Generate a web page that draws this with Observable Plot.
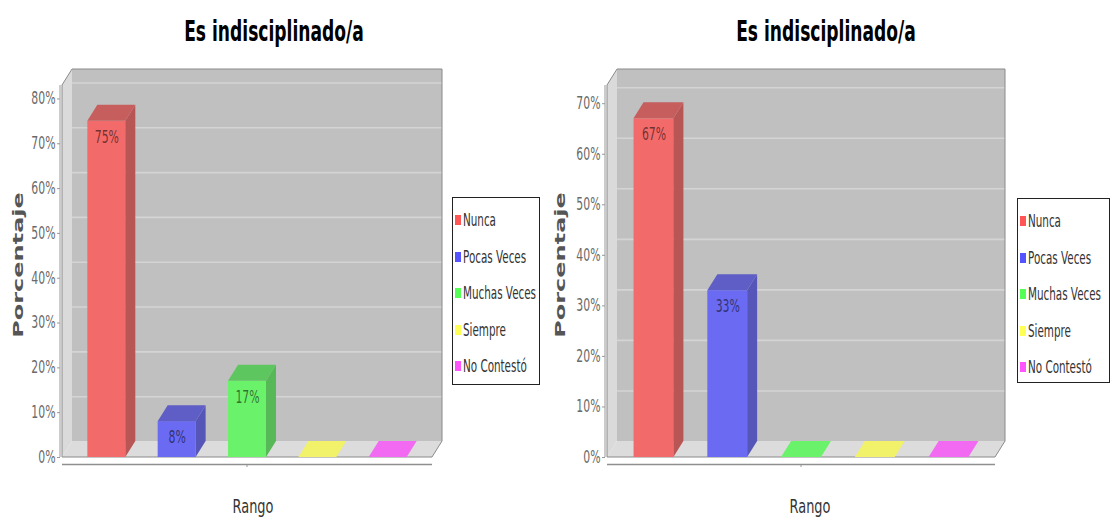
<!DOCTYPE html>
<html>
<head>
<meta charset="utf-8">
<script src="https://cdn.jsdelivr.net/npm/d3@7"></script>
<script src="https://cdn.jsdelivr.net/npm/@observablehq/plot@0.6"></script>
<style>
  body { margin: 0; background: #fff; }
  #root { position: relative; width: 1113px; height: 522px; overflow: hidden; font-family: "DejaVu Sans", sans-serif; }
  .panel { position: absolute; top: 0; height: 522px; }
  .panel svg { position: absolute; left: 0; top: 0; }
  .ov { position: absolute; white-space: nowrap; line-height: 1; }
</style>
</head>
<body>
<div id="root"></div>
<script>
// ---- data ----
const categories = ["Nunca", "Pocas Veces", "Muchas Veces", "Siempre", "No Contestó"];
const legendColors = ["#FF5555", "#5555FF", "#55FF55", "#FFFF55", "#FF55FF"];
const frontColors = ["#F26A6A", "#6A6AF2", "#6AF26A", "#F2F26A", "#F26AF2"];
const sideColors = ["#B85656", "#5656B8", "#56B856", "#B8B856", "#B856B8"];
const topColors = ["#C65E5E", "#5E5EC6", "#5EC65E", "#C6C65E", "#C65EC6"];
const leftValues = [75, 8, 17, 0, 0];
const rightValues = [67, 33, 0, 0, 0];
const leftTicks = [0, 10, 20, 30, 40, 50, 60, 70, 80];
const rightTicks = [0, 10, 20, 30, 40, 50, 60, 70];
const titleText = "Es indisciplinado/a";
const xLabel = "Rango";
const yLabel = "Porcentaje";

// ---- layout ----
const DX = 10, DY = 16;
const panelSpecs = [
  {values: leftValues, ticks: leftTicks, yMax: 83, left: 0, width: 556, ml: 62, mr: 124,
   titleX: 274, ylabX: 18, rangoX: 253, legend: {x: 452, y: 197, w: 88, h: 188}},
  {values: rightValues, ticks: rightTicks, yMax: 73.6, left: 556, width: 557, ml: 51, mr: 118,
   titleX: 826, ylabX: 560, rangoX: 810, legend: {x: 1017, y: 198, w: 93, h: 185}}
];

const root = document.getElementById("root");

function squish(svg, k) {
  svg.querySelectorAll("text").forEach(t => {
    const L = t.getComputedTextLength();
    if (L > 0) {
      t.setAttribute("textLength", (L * k).toFixed(2));
      t.setAttribute("lengthAdjust", "spacingAndGlyphs");
    }
  });
}

function box3d(index, scales, values, dim) {
  const x0 = dim.marginLeft, x1 = dim.width - dim.marginRight;
  const yT = dim.marginTop, yB = dim.height - dim.marginBottom;
  const g = d3.create("svg:g");
  g.append("rect").attr("x", x0 + DX).attr("y", yT - DY).attr("width", x1 - x0).attr("height", yB - yT)
    .attr("fill", "#c0c0c0");
  g.append("path").attr("d", `M${x0},${yT}L${x0 + DX},${yT - DY}L${x0 + DX},${yB - DY}L${x0},${yB}Z`)
    .attr("fill", "#dadada");
  g.append("path").attr("d", `M${x0},${yB}L${x0 + DX},${yB - DY}L${x1 + DX},${yB - DY}L${x1},${yB}Z`)
    .attr("fill", "#dcdcdc");
  return g.node();
}

function outline3d(index, scales, values, dim) {
  const x0 = dim.marginLeft, x1 = dim.width - dim.marginRight;
  const yT = dim.marginTop, yB = dim.height - dim.marginBottom;
  const g = d3.create("svg:g").attr("fill", "none");
  g.append("path")
    .attr("d", `M${x0},${yB}L${x0},${yT}L${x0 + DX},${yT - DY}L${x1 + DX},${yT - DY}L${x1 + DX},${yB - DY}L${x1},${yB}Z`)
    .attr("stroke", "#8a8a8a").attr("stroke-width", 1);
  g.append("path").attr("d", `M${x0 - 2},${yT}L${x0 - 2},${yB}`).attr("stroke", "#999");
  const xc = (x0 + x1) / 2;
  g.append("path").attr("d", `M${xc},${yB + 7}L${xc},${yB + 10}`).attr("stroke", "#999");
  return g.node();
}

function faces(index, scales, values, dimensions, context, next) {
  const g = next(index, scales, values, dimensions, context);
  const rects = Array.from(g.querySelectorAll("rect"));
  rects.forEach((r, j) => {
    const i = index[j];
    const x = +r.getAttribute("x"), y = +r.getAttribute("y");
    const w = +r.getAttribute("width"), h = +r.getAttribute("height");
    const ns = "http://www.w3.org/2000/svg";
    const side = document.createElementNS(ns, "path");
    side.setAttribute("d", `M${x + w},${y}L${x + w + DX},${y - DY}L${x + w + DX},${y + h - DY}L${x + w},${y + h}Z`);
    side.setAttribute("fill", sideColors[i]);
    g.appendChild(side);
    const top = document.createElementNS(ns, "path");
    top.setAttribute("d", `M${x},${y}L${x + DX},${y - DY}L${x + w + DX},${y - DY}L${x + w},${y}Z`);
    top.setAttribute("fill", h > 0.5 ? topColors[i] : frontColors[i]);
    g.appendChild(top);
  });
  return g;
}

panelSpecs.forEach(p => {
  const data = categories.map((c, i) => ({cat: c, value: p.values[i]}));
  const div = document.createElement("div");
  div.className = "panel";
  div.style.left = p.left + "px";
  div.style.width = p.width + "px";
  root.appendChild(div);

  const chart = Plot.plot({
    width: p.width,
    height: 522,
    marginLeft: p.ml,
    marginRight: p.mr,
    marginTop: 85,
    marginBottom: 65,
    style: {fontFamily: "DejaVu Sans, sans-serif", background: "transparent"},
    x: {type: "band", domain: categories, paddingInner: 0.46, paddingOuter: 0.36, round: false, axis: null},
    y: {domain: [0, p.yMax], axis: null},
    color: {domain: categories, range: frontColors},
    marks: [
      box3d,
      Plot.ruleY(p.ticks.filter(t => t > 0), {stroke: "#d4d4d4", strokeWidth: 1.6, dx: DX, dy: -DY}),
      outline3d,
      Plot.ruleY([0], {stroke: "#8f8f8f", strokeWidth: 1.5, dy: 7}),
      Plot.barY(data, {x: "cat", y: "value", fill: "cat", render: faces}),
      Plot.text(data.filter(d => d.value > 0), {
        x: "cat", y: "value", text: d => d.value + "%", dy: 16,
        fill: "black", fillOpacity: 0.55, fontSize: 17
      }),
      Plot.axisY(p.ticks, {
        tickFormat: d => d + "%", tickSize: 3, tickPadding: 2, dx: -2,
        fontSize: 17, fill: "#6a6a6a", stroke: "#999", label: null
      })
    ]
  });
  div.appendChild(chart);
  squish(chart, 0.64);

  const t = document.createElement("div");
  t.className = "ov";
  t.textContent = titleText;
  Object.assign(t.style, {
    left: (p.titleX - p.left) + "px", top: "17px", fontSize: "29px", fontWeight: "bold",
    color: "#000", transform: "translateX(-50%) scaleX(0.59)"
  });
  div.appendChild(t);

  const xl = document.createElement("div");
  xl.className = "ov";
  xl.textContent = xLabel;
  Object.assign(xl.style, {
    left: (p.rangoX - p.left) + "px", top: "497px", fontSize: "19px",
    color: "#333", transform: "translateX(-50%) scaleX(0.68)"
  });
  div.appendChild(xl);

  const yl = document.createElement("div");
  yl.className = "ov";
  yl.textContent = yLabel;
  Object.assign(yl.style, {
    left: (p.ylabX - p.left) + "px", top: "265px", fontSize: "24px", fontWeight: "bold",
    color: "#555", transform: "translate(-50%, -50%) rotate(-90deg) scaleY(0.62)"
  });
  div.appendChild(yl);

  const lg = document.createElement("div");
  Object.assign(lg.style, {
    position: "absolute", left: (p.legend.x - p.left) + "px", top: p.legend.y + "px",
    width: p.legend.w + "px", height: p.legend.h + "px", border: "1px solid #222",
    boxSizing: "border-box", background: "#fff"
  });
  categories.forEach((c, i) => {
    const row = document.createElement("div");
    Object.assign(row.style, {
      position: "absolute", left: "2px", top: (4 + i * 36.5) + "px", height: "36.5px",
      display: "flex", alignItems: "center", whiteSpace: "nowrap"
    });
    const sq = document.createElement("span");
    Object.assign(sq.style, {display: "inline-block", width: "6px", height: "10px", background: legendColors[i], marginRight: "2px"});
    const tx = document.createElement("span");
    tx.textContent = c;
    Object.assign(tx.style, {
      display: "inline-block", fontSize: "17px", color: "#333",
      transform: "scaleX(0.61)", transformOrigin: "left center"
    });
    row.appendChild(sq);
    row.appendChild(tx);
    lg.appendChild(row);
  });
  div.appendChild(lg);
});
</script>
</body>
</html>
